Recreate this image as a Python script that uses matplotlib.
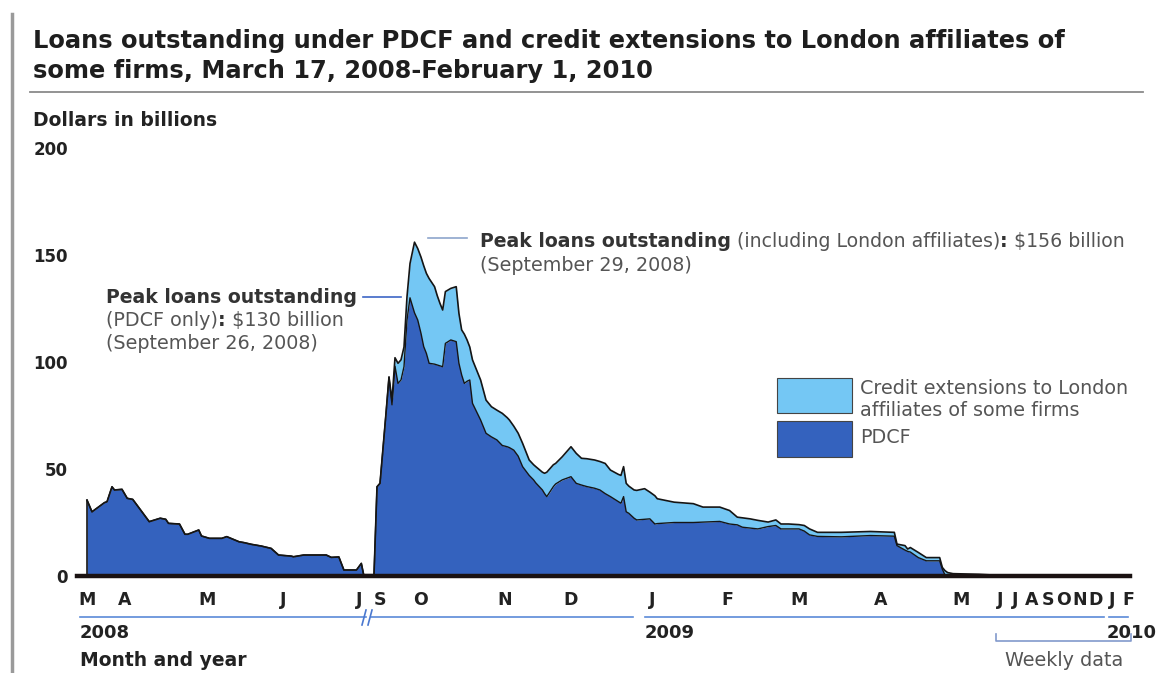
import numpy as np
import matplotlib
matplotlib.use('Agg')
import matplotlib.pyplot as plt
import matplotlib.dates as mdates
from matplotlib.lines import Line2D
from matplotlib.patches import Rectangle
from matplotlib.ticker import NullLocator

plt.rcParams['font.family'] = ['DejaVu Sans']

# ---- data (dollars in billions) ----
dates = [
    '2008-03-17', '2008-03-19', '2008-03-24', '2008-03-25', '2008-03-27', '2008-03-28',
    '2008-03-31', '2008-04-02', '2008-04-04', '2008-04-10', '2008-04-14', '2008-04-16',
    '2008-04-17', '2008-04-21', '2008-04-23', '2008-04-24', '2008-04-28', '2008-04-29',
    '2008-05-02', '2008-05-07', '2008-05-09', '2008-05-14', '2008-05-16', '2008-05-19',
    '2008-05-23', '2008-05-27', '2008-05-30', '2008-06-04', '2008-06-05', '2008-06-09',
    '2008-06-18', '2008-06-20', '2008-06-23', '2008-06-25', '2008-06-30', '2008-07-02',
    '2008-07-03', '2008-07-07', '2008-09-12',
    '2008-09-15', '2008-09-16', '2008-09-18', '2008-09-19', '2008-09-20', '2008-09-21',
    '2008-09-22', '2008-09-23', '2008-09-24', '2008-09-25', '2008-09-26', '2008-09-29',
    '2008-09-30', '2008-10-01', '2008-10-02', '2008-10-03', '2008-10-04', '2008-10-06',
    '2008-10-07', '2008-10-08', '2008-10-09', '2008-10-10', '2008-10-12', '2008-10-14',
    '2008-10-15', '2008-10-16', '2008-10-17', '2008-10-18', '2008-10-19', '2008-10-20',
    '2008-10-23', '2008-10-25', '2008-10-27', '2008-10-29', '2008-10-31', '2008-11-02',
    '2008-11-03', '2008-11-05', '2008-11-07', '2008-11-09', '2008-11-12', '2008-11-14',
    '2008-11-15', '2008-11-18', '2008-11-19', '2008-11-20', '2008-11-23', '2008-11-24',
    '2008-11-27', '2008-12-01', '2008-12-03', '2008-12-05', '2008-12-07', '2008-12-10',
    '2008-12-12', '2008-12-14', '2008-12-16', '2008-12-19', '2008-12-20', '2008-12-21',
    '2008-12-22', '2008-12-23', '2008-12-25', '2008-12-26', '2008-12-29', '2008-12-31',
    '2009-01-02', '2009-01-03', '2009-01-10', '2009-01-18', '2009-01-22', '2009-01-29',
    '2009-02-02', '2009-02-05', '2009-02-07', '2009-02-10', '2009-02-13', '2009-02-17',
    '2009-02-20', '2009-02-22', '2009-02-25', '2009-03-01', '2009-03-03', '2009-03-05',
    '2009-03-08', '2009-03-17', '2009-03-28', '2009-04-06', '2009-04-07', '2009-04-10',
    '2009-04-11', '2009-04-12', '2009-04-15', '2009-04-18', '2009-04-23', '2009-04-24',
    '2009-04-25', '2009-04-26', '2009-04-28', '2009-05-15', '2009-05-25', '2009-06-01',
    '2010-02-01',
]
pdcf = [
    35.5, 30.0, 34.3, 34.7, 41.7, 40.2,
    40.5, 36.3, 35.8, 25.4, 27.0, 26.5,
    24.6, 24.3, 19.5, 19.5, 21.5, 18.7,
    17.6, 17.6, 18.4, 16.0, 15.6, 14.8,
    14.0, 12.9, 9.8, 9.3, 9.0, 9.8,
    9.8, 8.7, 8.9, 2.8, 2.8, 5.9,
    0.6, 0.6, 0.6,
    41.7, 43.3, 76.0, 93.0, 80.0, 98.0,
    90.0, 91.6, 97.8, 119.6, 130.0, 123.0,
    119.6, 113.4, 107.2, 104.0, 99.4, 99.0,
    98.6, 98.2, 97.8, 108.7, 110.3, 109.5,
    99.4, 94.0, 90.0, 91.0, 91.6, 80.7,
    72.9, 66.7, 65.0, 63.6, 61.0, 60.4,
    60.0, 58.8, 56.0, 51.1, 47.0, 44.9,
    43.5, 40.2, 38.5, 37.1, 41.8, 43.0,
    44.9, 46.4, 43.3, 42.5, 41.8, 41.0,
    40.2, 38.5, 37.1, 34.8, 34.0, 37.1,
    30.0, 29.3, 27.0, 26.2, 26.5, 26.7,
    24.3, 24.5, 25.0, 25.0, 25.2, 25.5,
    24.3, 23.9, 22.8, 22.4, 22.0, 23.1,
    23.6, 22.0, 22.0, 22.0, 21.0, 19.2,
    18.5, 18.3, 18.9, 18.6, 14.2, 12.1,
    11.5, 11.2, 8.6, 7.1, 7.1, 3.2,
    0.5, 0.3, 0.2, 0.2, 0.1, 0.0,
    0.0,
]
london = [0.0] * 41 + [
    0.0, 0.0, 2.0, 4.0,
    9.4, 9.4, 9.2, 10.9, 16.0, 33.0,
    33.4, 35.6, 37.8, 37.4, 39.6, 36.2,
    32.4, 29.2, 26.5, 24.2, 24.1, 25.7,
    23.3, 21.0, 23.0, 19.3, 15.4, 20.3,
    18.7, 15.5, 14.1, 13.9, 15.0, 13.6,
    12.9, 11.2, 10.7, 10.9, 7.2, 7.1,
    7.6, 8.3, 9.5, 11.4, 10.2, 9.6,
    10.8, 14.0, 14.0, 12.5, 13.0, 13.2,
    13.3, 14.1, 12.4, 12.7, 13.0, 14.0,
    13.3, 12.7, 13.2, 13.8, 14.3, 12.5,
    13.2, 11.6, 9.5, 8.8, 7.0, 6.7,
    6.3, 3.6, 4.4, 4.3, 4.0, 2.1,
    2.6, 2.3, 2.3, 2.0, 2.6, 2.8,
    1.9, 2.1, 1.9, 1.8, 0.7, 2.1,
    1.1, 2.1, 2.4, 1.5, 1.5, 0.8,
    2.0, 1.3, 0.9, 0.6, 0.4, 0.0,
    0.0,
]

tick_dates = ['2008-03-17', '2008-04-01', '2008-05-01', '2008-06-01', '2008-07-01',
              '2008-09-16', '2008-10-01', '2008-11-01', '2008-12-01', '2009-01-01',
              '2009-02-01', '2009-03-01', '2009-04-01', '2009-05-01', '2009-06-01',
              '2009-07-01', '2009-08-01', '2009-09-01', '2009-10-01', '2009-11-01',
              '2009-12-01', '2010-01-01', '2010-02-01']
tick_labels = ['M', 'A', 'M', 'J', 'J', 'S', 'O', 'N', 'D', 'J', 'F', 'M', 'A', 'M',
               'J', 'J', 'A', 'S', 'O', 'N', 'D', 'J', 'F']
y_ticks = [0, 50, 100, 150, 200]

# broken / compressed time axis: where each date sits across the page
anchor_dates = ['2008-03-13', '2008-03-17', '2008-04-01', '2008-05-01', '2008-06-01',
                '2008-07-01', '2008-07-07', '2008-09-12', '2008-09-15', '2008-09-26',
                '2008-09-29', '2008-10-01', '2008-11-01', '2008-12-01', '2009-01-01',
                '2009-02-01', '2009-03-01', '2009-04-01', '2009-05-01', '2009-06-01',
                '2010-02-01', '2010-02-05']
anchor_px = [77, 87, 124.5, 207, 283.5, 359, 373, 374, 377, 410, 414.5, 421, 505, 571,
             652.5, 727, 799, 881, 961, 1000, 1128, 1130]

W, H = 1157, 673
DARK = '#3462be'
LIGHT = '#74c7f4'
INK = '#222222'
GREY = '#555555'
NOTE = 13.8


def fx(x):
    return x / W


def fy(y):
    return 1 - y / H


def to_num(ds):
    return mdates.date2num(np.array(ds, dtype='datetime64[D]'))


anc = to_num(anchor_dates)
fig = plt.figure(figsize=(W / 100, H / 100), dpi=100)
ax = fig.add_axes([fx(anchor_px[0]), fy(576), (anchor_px[-1] - anchor_px[0]) / W, (576 - 148) / H])
ax.set_xscale('function', functions=(lambda v: np.interp(v, anc, anchor_px),
                                     lambda p: np.interp(p, anchor_px, anc)))

x = to_num(dates)
p = np.array(pdcf)
tot = p + np.array(london)

ax.fill_between(x, 0, p, color=DARK, lw=0)
ax.fill_between(x, p, tot, color=LIGHT, lw=0)
ax.plot(x, tot, color='#151515', lw=1.2)
ax.plot(x, p, color='#151515', lw=1.0)
ax.vlines(x[0], 0, p[0], color='#151515', lw=1.2)
ax.axhline(0, color='#1a1212', lw=3.2, clip_on=False, zorder=5)

ax.set_xlim(anc[0], anc[-1])
ax.set_ylim(0, 200)
ax.set_xticks(to_num(tick_dates), tick_labels, fontweight='bold', fontsize=12.5, color=INK)
ax.xaxis.set_minor_locator(NullLocator())
ax.set_yticks(y_ticks, [str(v) for v in y_ticks], fontweight='bold', fontsize=12, color=INK)
ax.tick_params(axis='x', length=0, pad=11)
ax.tick_params(axis='y', length=0, pad=6.5)
for s in ax.spines.values():
    s.set_visible(False)
ax.patch.set_alpha(0)


def fline(xs, ys, **kw):
    fig.add_artist(Line2D([fx(v) for v in xs], [fy(v) for v in ys], **kw))


# frame decorations
fline([12, 12], [14, 673], color='#9a9a9a', lw=2.5)
fline([30, 1143], [92, 92], color='#8a8a8a', lw=1.3)

fig.text(fx(33), fy(48), 'Loans outstanding under PDCF and credit extensions to London affiliates of',
         fontsize=17.4, fontweight='bold', color='#1e1e1e', va='baseline')
fig.text(fx(33), fy(78), 'some firms, March 17, 2008-February 1, 2010',
         fontsize=17.4, fontweight='bold', color='#1e1e1e', va='baseline')
fig.text(fx(33), fy(126), 'Dollars in billions', fontsize=13.5, fontweight='bold', color=INK, va='baseline')

# year rows under the months
yc = '#5b8ad8'
for a, b in [(80, 366), (371, 633), (645, 1104), (1109, 1128)]:
    fline([a, b], [617, 617], color=yc, lw=1.2)
for xs in (362, 368):
    fline([xs, xs + 4], [625, 610], color='#4a78d0', lw=1.2)
for xt, lab in [(80, '2008'), (645, '2009'), (1107, '2010')]:
    fig.text(fx(xt), fy(638), lab, fontsize=13, fontweight='bold', color=INK, va='baseline')
fig.text(fx(80), fy(666), 'Month and year', fontsize=13.5, fontweight='bold', color=INK, va='baseline')

# weekly bracket
bc = '#8299cc'
fline([996, 996, 1131, 1131], [634, 641, 641, 634], color=bc, lw=1.2)
fig.text(fx(1064), fy(666), 'Weekly data', fontsize=NOTE, color=GREY, ha='center', va='baseline')


def rich(xp, yp, parts, size=NOTE):
    t = fig.text(fx(xp), fy(yp), parts[0][0], fontsize=size, fontweight=parts[0][1],
                 color=parts[0][2], va='baseline')
    for s, w, c in parts[1:]:
        t = ax.annotate(s, xy=(1, 0), xycoords=t, va='bottom', ha='left', fontsize=size,
                        fontweight=w, color=c, annotation_clip=False)
    return t


# peak notes
rich(106, 303, [('Peak loans outstanding', 'bold', '#333333')], size=13.6)
rich(106, 326, [('(PDCF only)', 'normal', GREY), (':', 'bold', '#333333'),
                (' $130 billion', 'normal', GREY)])
rich(106, 349, [('(September 26, 2008)', 'normal', GREY)])
fline([363, 401], [297, 297], color='#3d66c6', lw=1.2)

rich(480, 247, [('Peak loans outstanding', 'bold', '#333333'),
                (' (including London affiliates)', 'normal', GREY), (':', 'bold', '#333333'),
                (' $156 billion', 'normal', GREY)], size=13.6)
rich(480, 271, [('(September 29, 2008)', 'normal', GREY)])
fline([428, 467], [238, 238], color='#8ea5cc', lw=1.2)

# legend
for (y0, y1, col) in [(378, 413, LIGHT), (421, 457, DARK)]:
    fig.add_artist(Rectangle((fx(777), fy(y1)), 75 / W, (y1 - y0) / H, transform=fig.transFigure,
                             facecolor=col, edgecolor='#444444', lw=0.8))
fig.text(fx(860), fy(394), 'Credit extensions to London', fontsize=NOTE, color=GREY, va='baseline')
fig.text(fx(860), fy(416), 'affiliates of some firms', fontsize=NOTE, color=GREY, va='baseline')
fig.text(fx(860), fy(443), 'PDCF', fontsize=NOTE, color=GREY, va='baseline')

fig.savefig('out.png', dpi=100)
